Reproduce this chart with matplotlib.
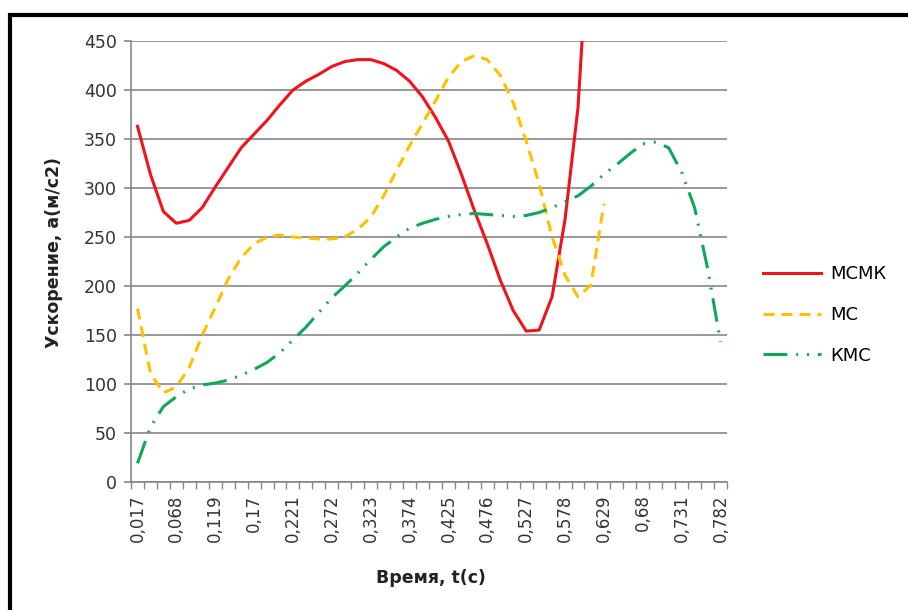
import numpy as np
import matplotlib.pyplot as plt
from matplotlib.patches import Rectangle

# time points (s), category axis
t = [0.017, 0.034, 0.051, 0.068, 0.085, 0.102, 0.119, 0.136, 0.153, 0.17,
     0.187, 0.204, 0.221, 0.238, 0.255, 0.272, 0.289, 0.306, 0.323, 0.34,
     0.357, 0.374, 0.391, 0.408, 0.425, 0.442, 0.459, 0.476, 0.493, 0.51,
     0.527, 0.544, 0.561, 0.578, 0.595, 0.612, 0.629, 0.646, 0.663, 0.68,
     0.697, 0.714, 0.731, 0.748, 0.765, 0.782]

# acceleration, m/s2
mcmk = [363, 314, 276, 264, 267, 280, 301, 321, 341, 355, 369, 385, 400, 409,
        416, 424, 429, 431, 431, 427, 420, 409, 393, 372, 348, 314, 277, 243,
        206, 175, 154, 155, 189, 268, 382, 600]
mc = [177, 111, 91, 97, 117, 150, 178, 207, 229, 243, 250, 252, 250, 249, 248,
      248, 250, 258, 270, 292, 318, 343, 366, 389, 413, 429, 435, 431, 415,
      387, 348, 304, 250, 211, 189, 201, 284]
kmc = [19, 56, 77, 87, 95, 99, 101, 104, 109, 115, 122, 132, 145, 158, 173,
       188, 200, 213, 227, 240, 250, 259, 264, 268, 271, 273, 274, 273, 272,
       271, 272, 275, 280, 286, 292, 302, 314, 324, 335, 345, 347, 341, 316,
       280, 218, 143]

series_names = ["МСМК", "МС", "КМС"]
tick_labels = [f"{v:g}".replace(".", ",") for v in t]

W, H = 908, 610
fig = plt.figure(figsize=(W / 100, H / 100), dpi=100)
ax = fig.add_axes([131 / W, 1 - 482 / H, (727 - 131) / W, (482 - 41) / H])

grey = "#868686"
x = np.arange(len(t))

lw = 2.2
ax.plot(x[:len(mcmk)], mcmk, color="#F2121C", lw=lw, label=series_names[0],
        solid_joinstyle="round")
ax.plot(x[:len(mc)], mc, color="#FFC000", lw=lw, label=series_names[1],
        linestyle=(0, (3.6, 2.3)))
ax.plot(x, kmc, color="#0FA75A", lw=lw, label=series_names[2],
        linestyle=(0, (7.8, 2.9, 0.65, 2.9, 0.65, 2.9)))

ax.set_xlim(-0.5, len(t) - 0.5)
ax.set_ylim(0, 450)
ax.set_yticks(range(0, 451, 50))
ax.yaxis.grid(True, color=grey, lw=1.2)
ax.set_axisbelow(True)

for s in ["top", "right"]:
    ax.spines[s].set_visible(False)
for s in ["left", "bottom"]:
    ax.spines[s].set_color(grey)
    ax.spines[s].set_linewidth(1.2)

ax.set_xticks(x[::3])
ax.set_xticklabels(tick_labels[::3], rotation=90, va="top")
ax.set_xticks(np.arange(-0.5, len(t), 1), minor=True)
ax.tick_params(axis="x", which="major", length=0, pad=9, labelsize=12,
               labelcolor="#333333")
ax.tick_params(axis="x", which="minor", length=5, color=grey, width=1)
ax.tick_params(axis="y", length=5, color=grey, width=1.2, pad=5,
               labelsize=12.5, labelcolor="#333333")

fig.text(54 / W, 1 - 252 / H, "Ускорение, a(м/с2)", rotation=90,
         ha="center", va="center", fontsize=12.5, fontweight="bold",
         color="#222222")
fig.text(431 / W, 1 - 578 / H, "Время, t(с)", ha="center", va="center",
         fontsize=12.5, fontweight="bold", color="#222222")

ax.legend(loc="center left", bbox_to_anchor=(763 / W, 1 - 315 / H),
          bbox_transform=fig.transFigure, frameon=False, fontsize=13,
          handlelength=3.2, handletextpad=0.5, labelspacing=1.25,
          borderpad=0, borderaxespad=0)

# outer frame of the chart area (left and top edges visible)
fig.patches.append(Rectangle((10, -200), 1100, H - 15 + 200, transform=None,
                             fill=False, edgecolor="black", lw=3))

fig.savefig("out.png", dpi=100)
